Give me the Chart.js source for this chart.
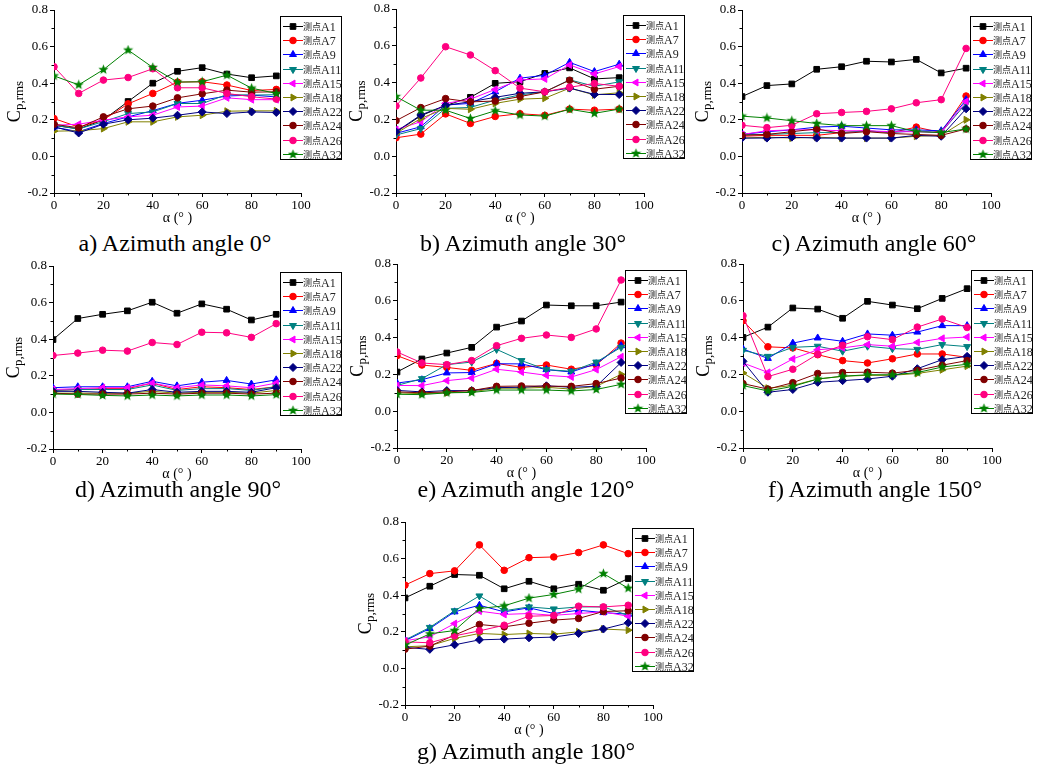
<!DOCTYPE html>
<html>
<head>
<meta charset="utf-8">
<script src="https://cdn.jsdelivr.net/npm/chart.js@4.4.1/dist/chart.umd.min.js"></script>
<style>
  body { margin: 0; background: #fff; }
  #page { position: relative; width: 1039px; height: 770px; overflow: hidden; background: #fff; }
  #page canvas { position: absolute; }
  .caption {
    position: absolute; width: 340px; text-align: center; white-space: nowrap;
    font-family: 'Liberation Serif', serif; font-size: 24px; line-height: 28px; color: #000;
  }
</style>
</head>
<body>
<div id="page"></div>
<script>
// x values (wind angle alpha) shared by every panel
const alpha = [0, 10, 20, 30, 40, 50, 60, 70, 80, 90];
const pointNames = ['测点A1', '测点A7', '测点A9', '测点A11', '测点A15', '测点A18', '测点A22', '测点A24', '测点A26', '测点A32'];
const yTicks = [-0.2, 0.0, 0.2, 0.4, 0.6, 0.8];
const xTicks = [0, 20, 40, 60, 80, 100];
const captions = ['a) Azimuth angle 0°', 'b) Azimuth angle 30°', 'c) Azimuth angle 60°', 'd) Azimuth angle 90°',
  'e) Azimuth angle 120°', 'f) Azimuth angle 150°', 'g) Azimuth angle 180°'];

// Cp,rms per measuring point (rows in pointNames order), one array per azimuth
const cpAz0 = [
  [0.17, 0.15, 0.20, 0.30, 0.40, 0.465, 0.485, 0.45, 0.43, 0.44],
  [0.207, 0.16, 0.20, 0.287, 0.344, 0.406, 0.408, 0.39, 0.36, 0.366],
  [0.16, 0.135, 0.18, 0.216, 0.25, 0.29, 0.307, 0.33, 0.335, 0.325],
  [0.17, 0.15, 0.19, 0.234, 0.243, 0.289, 0.289, 0.338, 0.335, 0.337],
  [0.17, 0.176, 0.198, 0.216, 0.225, 0.27, 0.275, 0.32, 0.31, 0.31],
  [0.138, 0.14, 0.152, 0.189, 0.189, 0.216, 0.225, 0.247, 0.249, 0.249],
  [0.161, 0.128, 0.176, 0.20, 0.209, 0.225, 0.243, 0.234, 0.243, 0.24],
  [0.176, 0.156, 0.216, 0.26, 0.275, 0.32, 0.342, 0.362, 0.351, 0.353],
  [0.49, 0.344, 0.417, 0.431, 0.479, 0.375, 0.375, 0.344, 0.326, 0.313],
  [0.44, 0.391, 0.474, 0.581, 0.486, 0.406, 0.408, 0.444, 0.373, 0.344]
];
const cpAz30 = [
  [0.13, 0.22, 0.275, 0.32, 0.396, 0.405, 0.45, 0.48, 0.42, 0.427],
  [0.10, 0.12, 0.23, 0.178, 0.216, 0.231, 0.222, 0.256, 0.25, 0.256],
  [0.124, 0.16, 0.278, 0.287, 0.35, 0.424, 0.44, 0.51, 0.46, 0.50],
  [0.115, 0.15, 0.26, 0.265, 0.305, 0.333, 0.35, 0.415, 0.38, 0.404],
  [0.145, 0.187, 0.287, 0.31, 0.363, 0.415, 0.42, 0.496, 0.447, 0.487],
  [0.124, 0.205, 0.26, 0.255, 0.287, 0.31, 0.315, 0.37, 0.333, 0.345],
  [0.133, 0.224, 0.276, 0.296, 0.32, 0.342, 0.35, 0.37, 0.336, 0.335],
  [0.193, 0.264, 0.313, 0.295, 0.30, 0.324, 0.35, 0.413, 0.364, 0.38],
  [0.273, 0.425, 0.595, 0.55, 0.465, 0.37, 0.35, 0.375, 0.395, 0.38],
  [0.324, 0.25, 0.25, 0.205, 0.247, 0.224, 0.218, 0.255, 0.233, 0.256]
];
const cpAz60 = [
  [0.327, 0.387, 0.396, 0.476, 0.49, 0.52, 0.516, 0.53, 0.456, 0.482],
  [0.11, 0.115, 0.115, 0.115, 0.13, 0.14, 0.13, 0.16, 0.13, 0.33],
  [0.12, 0.135, 0.145, 0.16, 0.165, 0.155, 0.145, 0.145, 0.14, 0.31],
  [0.12, 0.12, 0.125, 0.13, 0.13, 0.14, 0.13, 0.14, 0.13, 0.29],
  [0.12, 0.14, 0.145, 0.145, 0.14, 0.14, 0.135, 0.135, 0.13, 0.30],
  [0.10, 0.105, 0.10, 0.105, 0.10, 0.10, 0.10, 0.11, 0.115, 0.20],
  [0.10, 0.10, 0.105, 0.10, 0.10, 0.10, 0.10, 0.115, 0.11, 0.26],
  [0.115, 0.12, 0.135, 0.15, 0.125, 0.135, 0.125, 0.12, 0.115, 0.15],
  [0.17, 0.157, 0.17, 0.233, 0.24, 0.246, 0.26, 0.293, 0.31, 0.59],
  [0.22, 0.21, 0.195, 0.18, 0.168, 0.168, 0.168, 0.135, 0.13, 0.15]
];
const cpAz90 = [
  [0.398, 0.513, 0.536, 0.555, 0.602, 0.542, 0.593, 0.564, 0.505, 0.536],
  [0.12, 0.125, 0.13, 0.13, 0.16, 0.125, 0.14, 0.135, 0.125, 0.14],
  [0.135, 0.14, 0.14, 0.14, 0.17, 0.145, 0.165, 0.175, 0.155, 0.178],
  [0.12, 0.125, 0.125, 0.125, 0.15, 0.12, 0.13, 0.13, 0.12, 0.14],
  [0.125, 0.13, 0.135, 0.135, 0.16, 0.135, 0.15, 0.145, 0.135, 0.16],
  [0.105, 0.105, 0.105, 0.105, 0.115, 0.105, 0.11, 0.11, 0.105, 0.12],
  [0.115, 0.115, 0.11, 0.105, 0.125, 0.11, 0.115, 0.115, 0.11, 0.135],
  [0.105, 0.10, 0.10, 0.10, 0.105, 0.10, 0.105, 0.105, 0.10, 0.105],
  [0.311, 0.324, 0.34, 0.335, 0.382, 0.371, 0.438, 0.435, 0.41, 0.485],
  [0.10, 0.098, 0.093, 0.09, 0.095, 0.09, 0.095, 0.095, 0.09, 0.097]
];
const cpAz120 = [
  [0.213, 0.284, 0.316, 0.347, 0.457, 0.49, 0.577, 0.573, 0.573, 0.593],
  [0.302, 0.251, 0.238, 0.222, 0.26, 0.238, 0.251, 0.228, 0.251, 0.37],
  [0.153, 0.171, 0.208, 0.21, 0.258, 0.257, 0.226, 0.213, 0.258, 0.356],
  [0.14, 0.177, 0.253, 0.267, 0.336, 0.275, 0.226, 0.217, 0.267, 0.347],
  [0.14, 0.139, 0.166, 0.18, 0.228, 0.213, 0.195, 0.186, 0.226, 0.296],
  [0.10, 0.095, 0.10, 0.105, 0.125, 0.125, 0.13, 0.12, 0.135, 0.20],
  [0.113, 0.105, 0.112, 0.112, 0.128, 0.13, 0.138, 0.13, 0.135, 0.265],
  [0.105, 0.10, 0.105, 0.112, 0.135, 0.137, 0.136, 0.135, 0.15, 0.18],
  [0.322, 0.262, 0.253, 0.275, 0.356, 0.396, 0.414, 0.401, 0.447, 0.713],
  [0.092, 0.09, 0.10, 0.102, 0.115, 0.115, 0.115, 0.11, 0.118, 0.146]
];
const cpAz150 = [
  [0.401, 0.457, 0.561, 0.555, 0.505, 0.597, 0.577, 0.557, 0.613, 0.666],
  [0.492, 0.35, 0.344, 0.307, 0.275, 0.262, 0.285, 0.311, 0.311, 0.293],
  [0.338, 0.287, 0.37, 0.398, 0.38, 0.42, 0.413, 0.43, 0.465, 0.465],
  [0.331, 0.298, 0.347, 0.353, 0.326, 0.353, 0.34, 0.336, 0.362, 0.351],
  [0.262, 0.211, 0.284, 0.334, 0.344, 0.362, 0.353, 0.374, 0.396, 0.403],
  [0.208, 0.125, 0.14, 0.175, 0.19, 0.195, 0.195, 0.205, 0.225, 0.245],
  [0.271, 0.103, 0.118, 0.157, 0.166, 0.175, 0.19, 0.231, 0.28, 0.298],
  [0.15, 0.12, 0.155, 0.205, 0.21, 0.212, 0.207, 0.222, 0.25, 0.275],
  [0.519, 0.188, 0.228, 0.31, 0.358, 0.405, 0.389, 0.457, 0.501, 0.455],
  [0.139, 0.11, 0.135, 0.175, 0.19, 0.198, 0.198, 0.21, 0.24, 0.255]
];
const cpAz180 = [
  [0.385, 0.449, 0.513, 0.509, 0.435, 0.476, 0.435, 0.46, 0.427, 0.491],
  [0.455, 0.518, 0.533, 0.675, 0.536, 0.605, 0.609, 0.633, 0.675, 0.627],
  [0.151, 0.218, 0.309, 0.345, 0.309, 0.331, 0.30, 0.318, 0.305, 0.296],
  [0.155, 0.224, 0.315, 0.396, 0.315, 0.336, 0.325, 0.336, 0.336, 0.29],
  [0.151, 0.173, 0.245, 0.313, 0.295, 0.30, 0.29, 0.30, 0.309, 0.285],
  [0.118, 0.124, 0.164, 0.191, 0.185, 0.191, 0.187, 0.20, 0.215, 0.209],
  [0.115, 0.104, 0.129, 0.156, 0.16, 0.167, 0.171, 0.191, 0.215, 0.249],
  [0.105, 0.122, 0.182, 0.24, 0.227, 0.247, 0.264, 0.273, 0.311, 0.315],
  [0.145, 0.14, 0.178, 0.205, 0.236, 0.285, 0.289, 0.34, 0.336, 0.345],
  [0.127, 0.189, 0.207, 0.327, 0.342, 0.384, 0.404, 0.433, 0.518, 0.438]
];
const panelData = [cpAz0, cpAz30, cpAz60, cpAz90, cpAz120, cpAz150, cpAz180];

// styling per series (Origin default colour / symbol cycle)
const lineColors = ['#000000', '#ff0000', '#0000ff', '#008080', '#ff00ff', '#808000', '#000080', '#800000', '#ff0080', '#008000'];
const markerStyles = ['rect', 'circle', 'triangle', 'triangle', 'triangle', 'triangle', 'rectRot', 'circle', 'circle', 'star'];
const markerRotation = [0, 0, 0, 180, -90, 90, 0, 0, 0, 0];
const markerRadius = [4, 3.3, 4, 4, 4, 4, 4, 3.3, 3.3, 4];

// plot area of each panel on the page: [left, top, right, bottom]
const plotBoxes = [
  [54, 10, 301, 193], [396, 9, 644, 193], [742, 10, 991, 193],
  [53, 266, 301, 449], [397, 264, 646, 448], [743, 264, 992, 448],
  [405, 522, 653, 705]
];
// caption centre x and top y
const captionPos = [[175, 229], [523, 229], [874, 229], [178, 475], [526, 475], [875, 475], [526, 737]];

const SERIF = '"Liberation Serif", "Times New Roman", serif';
const Y_AXIS_W = 54, X_AXIS_H = 34, PAD_TOP = 12, PAD_RIGHT = 46;

// filled five point star, Chart.js only has a stroked one
function makeStar(color) {
  const c = document.createElement('canvas');
  c.width = 11; c.height = 11;
  const g = c.getContext('2d');
  g.fillStyle = color;
  g.beginPath();
  for (let k = 0; k < 10; k++) {
    const r = k % 2 === 0 ? 5.3 : 2.3;
    const a = -Math.PI / 2 + k * Math.PI / 5;
    g.lineTo(5.5 + r * Math.cos(a), 5.5 + r * Math.sin(a));
  }
  g.closePath();
  g.fill();
  return c;
}
const starImg = makeStar('#008000');
const pointStyleOf = i => markerStyles[i] === 'star' ? starImg : markerStyles[i];

// short minor ticks between the labelled ones
const minorTicks = {
  id: 'minorTicks',
  afterDraw(chart) {
    const ctx = chart.ctx, xs = chart.scales.x, ys = chart.scales.y;
    const a = chart.chartArea;
    ctx.save();
    ctx.strokeStyle = '#000';
    ctx.lineWidth = 1;
    ctx.beginPath();
    for (let v = 10; v < 100; v += 20) {
      const px = Math.round(xs.getPixelForValue(v)) + 0.5;
      ctx.moveTo(px, a.bottom);
      ctx.lineTo(px, a.bottom + 2.5);
    }
    for (let v = -0.1; v < 0.8; v += 0.2) {
      const py = Math.round(ys.getPixelForValue(v)) + 0.5;
      ctx.moveTo(a.left, py);
      ctx.lineTo(a.left - 2.5, py);
    }
    ctx.stroke();
    ctx.restore();
  }
};

// "C" with subscript "p,rms", rotated
const yTitle = {
  id: 'yTitle',
  afterDraw(chart) {
    const ctx = chart.ctx, a = chart.chartArea;
    ctx.save();
    ctx.translate(a.left - 40, (a.top + a.bottom) / 2);
    ctx.rotate(-Math.PI / 2);
    ctx.fillStyle = '#000';
    ctx.textBaseline = 'alphabetic';
    ctx.font = '18px ' + SERIF;
    const cw = ctx.measureText('C').width;
    ctx.font = '13px ' + SERIF;
    const sw = ctx.measureText('p,rms').width;
    const x0 = -(cw + sw) / 2;
    ctx.font = '18px ' + SERIF;
    ctx.fillText('C', x0, 6);
    ctx.font = '13px ' + SERIF;
    ctx.fillText('p,rms', x0 + cw, 9);
    ctx.restore();
  }
};

// boxed legend that sits over the right edge of the plot, as Origin draws it
const boxLegend = {
  id: 'boxLegend',
  afterDraw(chart) {
    const ctx = chart.ctx, a = chart.chartArea;
    const left = a.right - 21, top = a.top + 6, w = 62, h = 144;
    ctx.save();
    ctx.fillStyle = '#fff';
    ctx.fillRect(left, top, w, h);
    ctx.strokeStyle = '#000';
    ctx.lineWidth = 1;
    ctx.strokeRect(left + 0.5, top + 0.5, w - 1, h - 1);
    ctx.textBaseline = 'middle';
    pointNames.forEach((name, i) => {
      const y = Math.round(top + 10 + i * 14.2) + 0.5;
      ctx.strokeStyle = lineColors[i];
      ctx.fillStyle = lineColors[i];
      ctx.lineWidth = 1;
      ctx.beginPath();
      ctx.moveTo(left + 3, y);
      ctx.lineTo(left + 23, y);
      ctx.stroke();
      Chart.helpers.drawPoint(ctx, {
        pointStyle: pointStyleOf(i), rotation: markerRotation[i], radius: markerRadius[i], borderWidth: 1
      }, left + 13, y);
      ctx.fillStyle = '#222';
      ctx.font = '9px "Noto Sans CJK SC", sans-serif';
      ctx.fillText(name.slice(0, 2), left + 23, y);
      ctx.font = '12px ' + SERIF;
      ctx.fillText(name.slice(2), left + 41, y + 1);
    });
    ctx.restore();
  }
};

function renderPanel(idx) {
  const [l, t, r, b] = plotBoxes[idx];
  const canvas = document.createElement('canvas');
  const w = (r - l) + Y_AXIS_W + PAD_RIGHT;
  const h = (b - t) + PAD_TOP + X_AXIS_H;
  canvas.width = w; canvas.height = h;
  canvas.style.left = (l - Y_AXIS_W) + 'px';
  canvas.style.top = (t - PAD_TOP) + 'px';
  canvas.style.width = w + 'px';
  canvas.style.height = h + 'px';
  document.getElementById('page').appendChild(canvas);

  const rows = panelData[idx];
  new Chart(canvas, {
    type: 'line',
    data: {
      datasets: rows.map((vals, i) => ({
        label: pointNames[i],
        data: vals.map((v, k) => ({ x: alpha[k], y: v })),
        borderColor: lineColors[i],
        backgroundColor: lineColors[i],
        borderWidth: 1,
        pointStyle: pointStyleOf(i),
        pointRotation: markerRotation[i],
        pointRadius: markerRadius[i],
        pointBorderWidth: 1,
        tension: 0,
        order: 10 - i   // later series drawn on top
      }))
    },
    options: {
      responsive: false,
      animation: false,
      events: [],
      layout: { padding: { top: PAD_TOP, right: PAD_RIGHT, left: 0, bottom: 0 } },
      scales: {
        x: {
          type: 'linear', min: 0, max: 100,
          afterBuildTicks: s => { s.ticks = xTicks.map(v => ({ value: v })); },
          afterFit: s => { s.height = X_AXIS_H; },
          ticks: { color: '#000', font: { family: SERIF, size: 13 }, padding: 1, maxRotation: 0, autoSkip: false },
          grid: { drawOnChartArea: false, tickLength: 4, color: '#000' },
          border: { color: '#000', width: 1 },
          title: { display: true, text: 'α (° )', color: '#000', font: { family: SERIF, size: 14 }, padding: 0 }
        },
        y: {
          min: -0.2, max: 0.8,
          afterBuildTicks: s => { s.ticks = yTicks.map(v => ({ value: v })); },
          afterFit: s => { s.width = Y_AXIS_W; },
          ticks: {
            color: '#000', font: { family: SERIF, size: 13 }, padding: 2,
            callback: v => (Math.abs(v) < 1e-9 ? 0 : v).toFixed(1)
          },
          grid: { drawOnChartArea: false, tickLength: 4, color: '#000' },
          border: { color: '#000', width: 1 }
        }
      },
      plugins: { legend: { display: false }, tooltip: { enabled: false } }
    },
    plugins: [minorTicks, yTitle, boxLegend]
  });

  const cap = document.createElement('div');
  cap.className = 'caption';
  cap.textContent = captions[idx];
  cap.style.left = (captionPos[idx][0] - 170) + 'px';
  cap.style.top = captionPos[idx][1] + 'px';
  document.getElementById('page').appendChild(cap);
}

panelData.forEach((_, i) => renderPanel(i));
</script>
</body>
</html>
